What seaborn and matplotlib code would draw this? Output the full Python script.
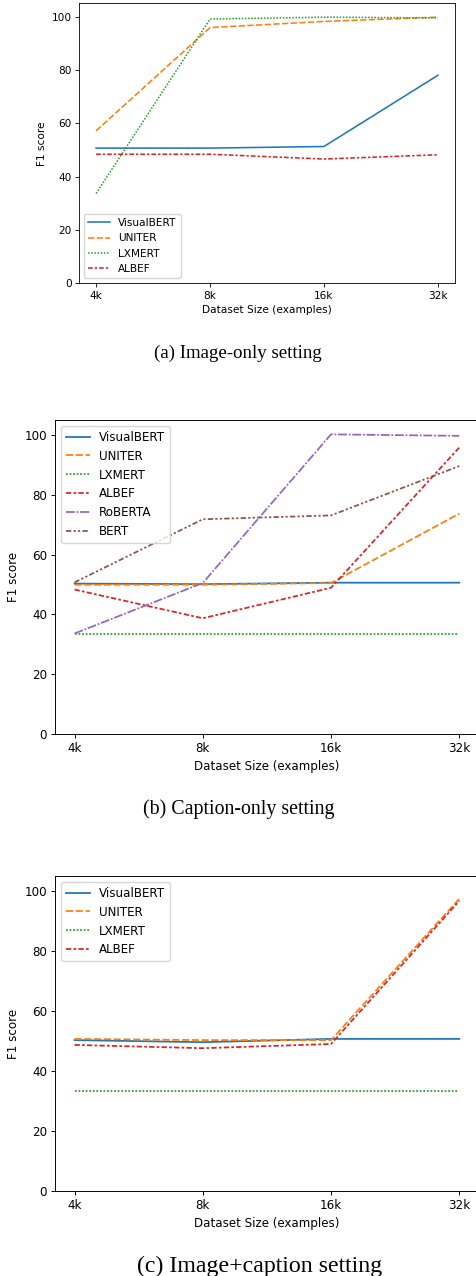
import pandas as pd
import matplotlib
matplotlib.use("Agg")
import matplotlib.pyplot as plt
import seaborn as sns

# ---------------- data ----------------
sizes = ["4k", "8k", "16k", "32k"]

# (a) image-only
a_visualbert = [50.7, 50.7, 51.3, 78.0]
a_uniter = [57.2, 95.9, 98.2, 99.8]
a_lxmert = [33.7, 99.1, 99.8, 99.5]
a_albef = [48.4, 48.4, 46.6, 48.2]

# (b) caption-only
b_visualbert = [50.3, 50.1, 50.6, 50.6]
b_uniter = [49.9, 49.9, 50.5, 73.7]
b_lxmert = [33.4, 33.4, 33.4, 33.4]
b_albef = [48.3, 38.7, 48.9, 95.8]
b_roberta = [33.6, 50.5, 100.2, 99.7]
b_bert = [50.7, 71.8, 73.1, 89.6]

# (c) image+caption
c_visualbert = [50.3, 49.6, 50.7, 50.7]
c_uniter = [50.7, 50.3, 50.3, 97.4]
c_lxmert = [33.4, 33.4, 33.4, 33.4]
c_albef = [48.7, 47.6, 49.0, 96.7]

captions = ["(a) Image-only setting", "(b) Caption-only setting", "(c) Image+caption setting"]


def to_long(series):
    rows = []
    for name, vals in series:
        for s, v in zip(sizes, vals):
            rows.append({"size": s, "F1": v, "model": name})
    return pd.DataFrame(rows)


df_a = to_long([("VisualBERT", a_visualbert), ("UNITER", a_uniter),
                ("LXMERT", a_lxmert), ("ALBEF", a_albef)])
df_b = to_long([("VisualBERT", b_visualbert), ("UNITER", b_uniter),
                ("LXMERT", b_lxmert), ("ALBEF", b_albef),
                ("RoBERTA", b_roberta), ("BERT", b_bert)])
df_c = to_long([("VisualBERT", c_visualbert), ("UNITER", c_uniter),
                ("LXMERT", c_lxmert), ("ALBEF", c_albef)])

W, H = 477, 1276
fig = plt.figure(figsize=(W / 100, H / 100), dpi=100)


def panel(df, box, s, loc):
    left, top, width, height = box
    ax = fig.add_axes([left / W, 1 - (top + height) / H, width / W, height / H])
    sns.lineplot(data=df, x="size", y="F1", hue="model", style="model",
                 linewidth=1.5 * s, ax=ax)
    ax.set_ylim(0, 105)
    ax.set_xlim(-0.15, 3.15)
    ax.set_yticks([0, 20, 40, 60, 80, 100])
    ax.set_xlabel("Dataset Size (examples)", fontsize=10 * s, labelpad=4 * s)
    ax.set_ylabel("F1 score", fontsize=10 * s, labelpad=4 * s)
    ax.tick_params(labelsize=10 * s, length=3.5 * s, width=0.8 * s, pad=3.5 * s)
    for sp in ax.spines.values():
        sp.set_linewidth(0.8 * s)
    h, l = ax.get_legend_handles_labels()
    keep = [(hh, ll) for hh, ll in zip(h, l) if ll != "model"]
    ax.legend([k[0] for k in keep], [k[1] for k in keep], loc=loc,
              fontsize=10 * s, handlelength=2.0, borderaxespad=0.5)
    return ax


panel(df_a, (79, 3.3, 376, 280), 0.758, "lower left")
panel(df_b, (55.3, 420, 423.2, 314), 0.853, "upper left")
panel(df_c, (55.3, 876, 423.2, 315), 0.853, "upper left")

cap_font = ["Liberation Serif", "DejaVu Serif"]
fig.text(238 / W, 1 - 358 / H, captions[0], ha="center", va="baseline",
         fontsize=13.6, family=cap_font)
fig.text(238.5 / W, 1 - 814 / H, captions[1], ha="center", va="baseline",
         fontsize=14.3, family=cap_font)
fig.text(260 / W, 1 - 1272 / H, captions[2], ha="center", va="baseline",
         fontsize=17.2, family=cap_font)

fig.savefig("out.png", dpi=100)
